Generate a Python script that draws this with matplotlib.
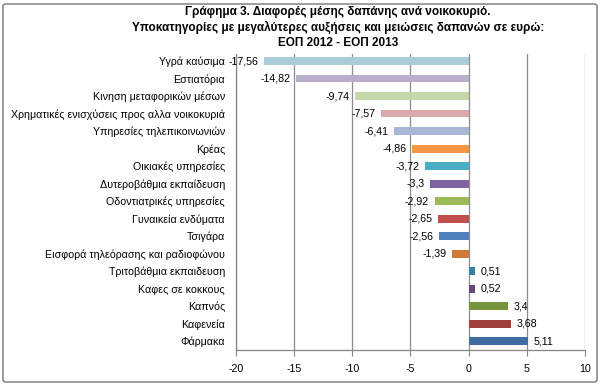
import matplotlib.pyplot as plt
from matplotlib.patches import FancyBboxPatch

plt.rcParams['font.family'] = ['Liberation Sans', 'DejaVu Sans']

categories = ['Υγρά καύσιμα', 'Εστιατόρια', 'Κινηση μεταφορικών μέσων',
              'Χρηματικές ενισχύσεις προς αλλα νοικοκυριά', 'Υπηρεσίες τηλεπικοινωνιών',
              'Κρέας', 'Οικιακές υπηρεσίες', 'Δυτεροβάθμια εκπαίδευση',
              'Οδοντιατρικές υπηρεσίες', 'Γυναικεία ενδύματα', 'Τσιγάρα',
              'Εισφορά τηλεόρασης και ραδιοφώνου', 'Τριτοβάθμια εκπαιδευση',
              'Καφες σε κοκκους', 'Καπνός', 'Καφενεία', 'Φάρμακα']
values = [-17.56, -14.82, -9.74, -7.57, -6.41, -4.86, -3.72, -3.3, -2.92,
          -2.65, -2.56, -1.39, 0.51, 0.52, 3.4, 3.68, 5.11]
colors = ['#A8CCD8', '#B9AFCA', '#C4D7A9', '#DAA9A9', '#A9B7D6', '#F79646',
          '#4BACC6', '#8064A2', '#9BBB59', '#C0504D', '#4F81BD', '#CF7A38',
          '#31859C', '#604A7B', '#77933C', '#A0403D', '#3F6CA3']
xticks = [-20, -15, -10, -5, 0, 5, 10]

fig = plt.figure(figsize=(6.02, 3.85), dpi=100)
ax = fig.add_axes([236/602, 1-350/385, (585-236)/602, (350-54)/385])

y = list(range(len(categories)))
bars = ax.barh(y, values, height=0.45, color=colors, zorder=3)
ax.set_ylim(16.5, -0.4)
ax.set_xlim(-20, 10)
ax.set_xticks(xticks)
ax.set_xticklabels([str(t) for t in xticks], fontsize=7.7)
ax.set_yticks(y)
ax.set_yticklabels(categories, fontsize=7.7)
ax.tick_params(axis='y', length=0, pad=8)
ax.tick_params(axis='x', length=4, color='#868686', pad=6)
ax.grid(axis='x', color='#8c8c8c', linewidth=0.9, zorder=0)
for s in ['top', 'right']:
    ax.spines[s].set_visible(False)
for s in ['left', 'bottom']:
    ax.spines[s].set_color('#868686')
    ax.spines[s].set_linewidth(0.9)

labels = [('%g' % v).replace('.', ',') for v in values]
ax.bar_label(bars, labels=labels, padding=4, fontsize=7.7, zorder=4)

fig.text(338/602, 1-6/385, 'Γράφημα 3. Διαφορές μέσης δαπάνης ανά νοικοκυριό.\n'
         'Υποκατηγορίες με μεγαλύτερες αυξήσεις και μειώσεις δαπανών σε ευρώ:\n'
         'ΕΟΠ 2012 - ΕΟΠ 2013', ha='center', va='top', fontsize=8.5,
         fontweight='bold', linespacing=1.3)

border = FancyBboxPatch((3/602, 3/385), 594/602, 378/385, boxstyle='round,pad=0,rounding_size=0.005',
                        transform=fig.transFigure, fill=False, edgecolor='#8c8c8c', linewidth=1.2)
fig.patches.append(border)

fig.savefig('out.png', dpi=100)
